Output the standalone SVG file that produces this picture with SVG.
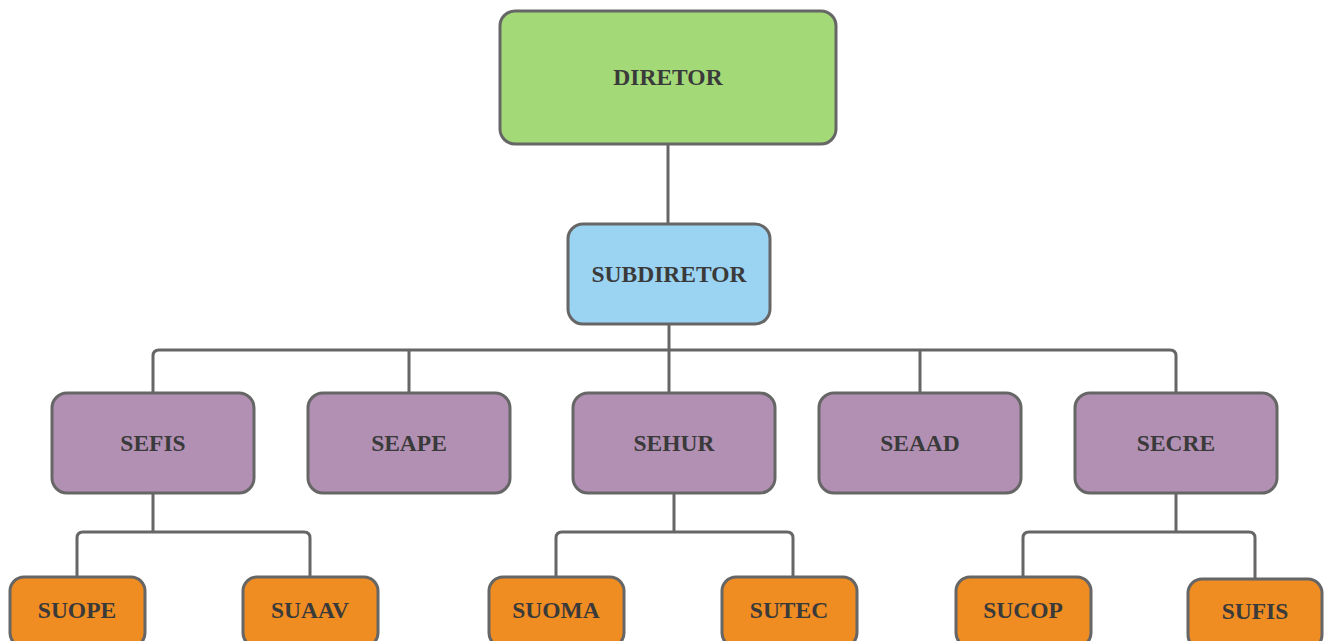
<svg xmlns="http://www.w3.org/2000/svg" width="1325" height="641" viewBox="0 0 1325 641">
<style>
.box{stroke:#666;stroke-width:3}
.g{fill:#a3d977}.b{fill:#9bd3f3}.p{fill:#b290b3}.o{fill:#ef8c22}
text{font-family:"Liberation Serif","DejaVu Serif",serif;font-weight:bold;font-size:23.5px;fill:#3a3a3a;text-anchor:middle;dominant-baseline:central}
.c{fill:none;stroke:#666;stroke-width:3;stroke-linejoin:round}
</style>
<rect width="1325" height="641" fill="#fff"/>
<g id="connectors">
<path class="c" d="M668 145V224"/>
<path class="c" d="M669 324V393"/>
<path class="c" d="M153 393V356Q153 350 159 350H1170Q1176 350 1176 356V393"/>
<path class="c" d="M409 350V393M920 350V393"/>
<path class="c" d="M153 494V532M77 577V538Q77 532 83 532H304Q310 532 310 538V577"/>
<path class="c" d="M674 494V532M556 577V538Q556 532 562 532H787Q793 532 793 538V577"/>
<path class="c" d="M1176 494V532M1023 577V538Q1023 532 1029 532H1249Q1255 532 1255 538V579"/>
</g>
<g id="diretor"><rect class="box g" x="500" y="11" width="336" height="133" rx="15"/><text x="668" y="77">DIRETOR</text></g>
<g id="subdiretor"><rect class="box b" x="568" y="224" width="202" height="100" rx="15"/><text x="669" y="274">SUBDIRETOR</text></g>
<g id="sefis"><rect class="box p" x="52" y="393" width="202" height="100" rx="15"/><text x="153" y="443">SEFIS</text></g>
<g id="seape"><rect class="box p" x="308" y="393" width="202" height="100" rx="15"/><text x="409" y="443">SEAPE</text></g>
<g id="sehur"><rect class="box p" x="573" y="393" width="202" height="100" rx="15"/><text x="674" y="443">SEHUR</text></g>
<g id="seaad"><rect class="box p" x="819" y="393" width="202" height="100" rx="15"/><text x="920" y="443">SEAAD</text></g>
<g id="secre"><rect class="box p" x="1075" y="393" width="202" height="100" rx="15"/><text x="1176" y="443">SECRE</text></g>
<g id="suope"><rect class="box o" x="10" y="577" width="135" height="70" rx="14"/><text x="77" y="610">SUOPE</text></g>
<g id="suaav"><rect class="box o" x="243" y="577" width="135" height="70" rx="14"/><text x="310" y="610">SUAAV</text></g>
<g id="suoma"><rect class="box o" x="489" y="577" width="135" height="70" rx="14"/><text x="556" y="610">SUOMA</text></g>
<g id="sutec"><rect class="box o" x="722" y="577" width="135" height="70" rx="14"/><text x="789" y="610">SUTEC</text></g>
<g id="sucop"><rect class="box o" x="956" y="577" width="135" height="70" rx="14"/><text x="1023" y="610">SUCOP</text></g>
<g id="sufis"><rect class="box o" x="1188" y="579" width="134" height="70" rx="14"/><text x="1255" y="611">SUFIS</text></g>
</svg>
